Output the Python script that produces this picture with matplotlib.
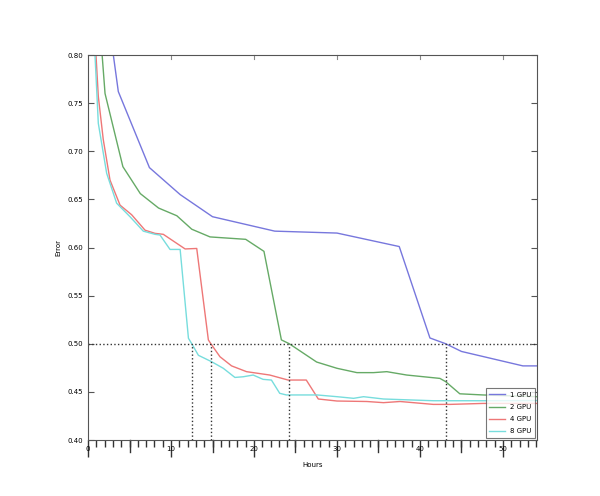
import numpy as np
import matplotlib
matplotlib.use("Agg")
import matplotlib.pyplot as plt
from matplotlib.ticker import MultipleLocator, FormatStrFormatter
from matplotlib.transforms import blended_transform_factory

# ---- data (hours, error) ----
h1 = [3.05, 3.65, 7.4, 11.1, 15.0, 22.5, 30.0, 37.5, 41.2, 43.1, 45.0, 52.4, 54.1]
e1 = [0.80, 0.762, 0.683, 0.655, 0.632, 0.617, 0.615, 0.601, 0.506, 0.500, 0.492, 0.477, 0.477]

h2 = [1.7, 2.05, 4.2, 6.3, 8.5, 10.7, 12.5, 14.7, 19.0, 21.2, 23.3, 24.25, 27.55,
      30.0, 32.4, 34.4, 36.0, 38.4, 42.4, 43.1, 44.8, 47.6, 54.1]
e2 = [0.80, 0.760, 0.684, 0.656, 0.641, 0.633, 0.619, 0.611, 0.6085, 0.596, 0.504,
      0.500, 0.481, 0.4745, 0.470, 0.470, 0.471, 0.4675, 0.464, 0.4606, 0.448, 0.4468, 0.445]

h4 = [0.96, 1.24, 1.84, 2.65, 3.86, 5.26, 6.87, 8.07, 9.07, 11.7, 13.1, 14.5, 14.8,
      15.9, 17.3, 19.1, 21.9, 24.1, 26.3, 27.75, 30.0, 33.6, 35.6, 37.6, 41.6, 43.6,
      47.6, 54.1]
e4 = [0.80, 0.757, 0.712, 0.670, 0.644, 0.634, 0.618, 0.6147, 0.6137, 0.5985, 0.599,
      0.504, 0.500, 0.4865, 0.477, 0.471, 0.4675, 0.4623, 0.4623, 0.4426, 0.4405,
      0.440, 0.4388, 0.440, 0.437, 0.437, 0.438, 0.438]

h8 = [0.84, 1.24, 2.25, 3.45, 5.06, 6.66, 8.07, 8.67, 9.88, 11.1, 12.1, 12.5, 13.3,
      14.9, 16.3, 17.7, 18.7, 19.9, 21.1, 22.1, 23.1, 23.9, 27.6, 30.0, 32.0, 33.2,
      35.6, 41.6, 47.6, 54.1]
e8 = [0.80, 0.729, 0.677, 0.646, 0.632, 0.617, 0.6137, 0.613, 0.598, 0.598, 0.5057,
      0.500, 0.488, 0.4813, 0.4745, 0.465, 0.4657, 0.4675, 0.463, 0.4623, 0.4485,
      0.4468, 0.4468, 0.445, 0.4433, 0.445, 0.4426, 0.4408, 0.4408, 0.441]

labels = ["1 GPU", "2 GPU", "4 GPU", "8 GPU"]
colors = ["#7777dd", "#66aa66", "#ee7777", "#77dddd"]

# hours where each run crosses error 0.50
cross = [12.5, 14.8, 24.25, 43.1]
target = 0.50

fig = plt.figure(figsize=(6, 4.96), dpi=100)
ax = fig.add_axes([0.1467, 0.1129, 0.7483, 0.7762])

for h, e, lab, c in zip([h1, h2, h4, h8], [e1, e2, e4, e8], labels, colors):
    ax.plot(h, e, color=c, lw=1.0, label=lab)

# dotted guide lines
ax.axhline(target, color="#333333", ls=":", lw=1.0)
for xc in cross:
    ax.plot([xc, xc], [0.40, target], color="#333333", ls=":", lw=1.0)

ax.set_xlim(0, 54.1)
ax.set_ylim(0.40, 0.80)
ax.xaxis.set_major_locator(MultipleLocator(10))
ax.xaxis.set_minor_locator(MultipleLocator(1))
ax.yaxis.set_major_locator(MultipleLocator(0.05))
ax.yaxis.set_major_formatter(FormatStrFormatter("%.2f"))

ax.tick_params(axis="x", which="major", direction="out", length=12, width=1,
               labelsize=5, pad=-8, top=False, color="#333333")
ax.tick_params(axis="x", which="minor", direction="out", length=5, width=1,
               top=False, color="#333333")
ax.tick_params(axis="y", which="major", direction="in", length=4, labelsize=5,
               right=True, color="#555555")

# long ticks at the 5s, short inner ticks on top at the 10s
trans = blended_transform_factory(ax.transData, ax.transAxes)
for xv in np.arange(5, 54, 10):
    ax.plot([xv, xv], [0, -12 / 385], transform=trans, color="#333333", lw=1, clip_on=False)
for xv in np.arange(10, 54, 10):
    ax.plot([xv, xv], [1.0, 1.0 - 4 / 385], transform=trans, color="#888888", lw=0.8, clip_on=False)

for sp in ax.spines.values():
    sp.set_color("#555555")

ax.set_xlabel("Hours", fontsize=5, labelpad=4)
ax.set_ylabel("Error", fontsize=5, labelpad=4)

leg = ax.legend(loc="lower right", fontsize=5, frameon=True, fancybox=False,
                handlelength=2.2, borderpad=0.5, labelspacing=0.9, borderaxespad=0.3)
leg.get_frame().set_edgecolor("#555555")
leg.get_frame().set_linewidth(0.8)

fig.savefig("out.png", dpi=100)
